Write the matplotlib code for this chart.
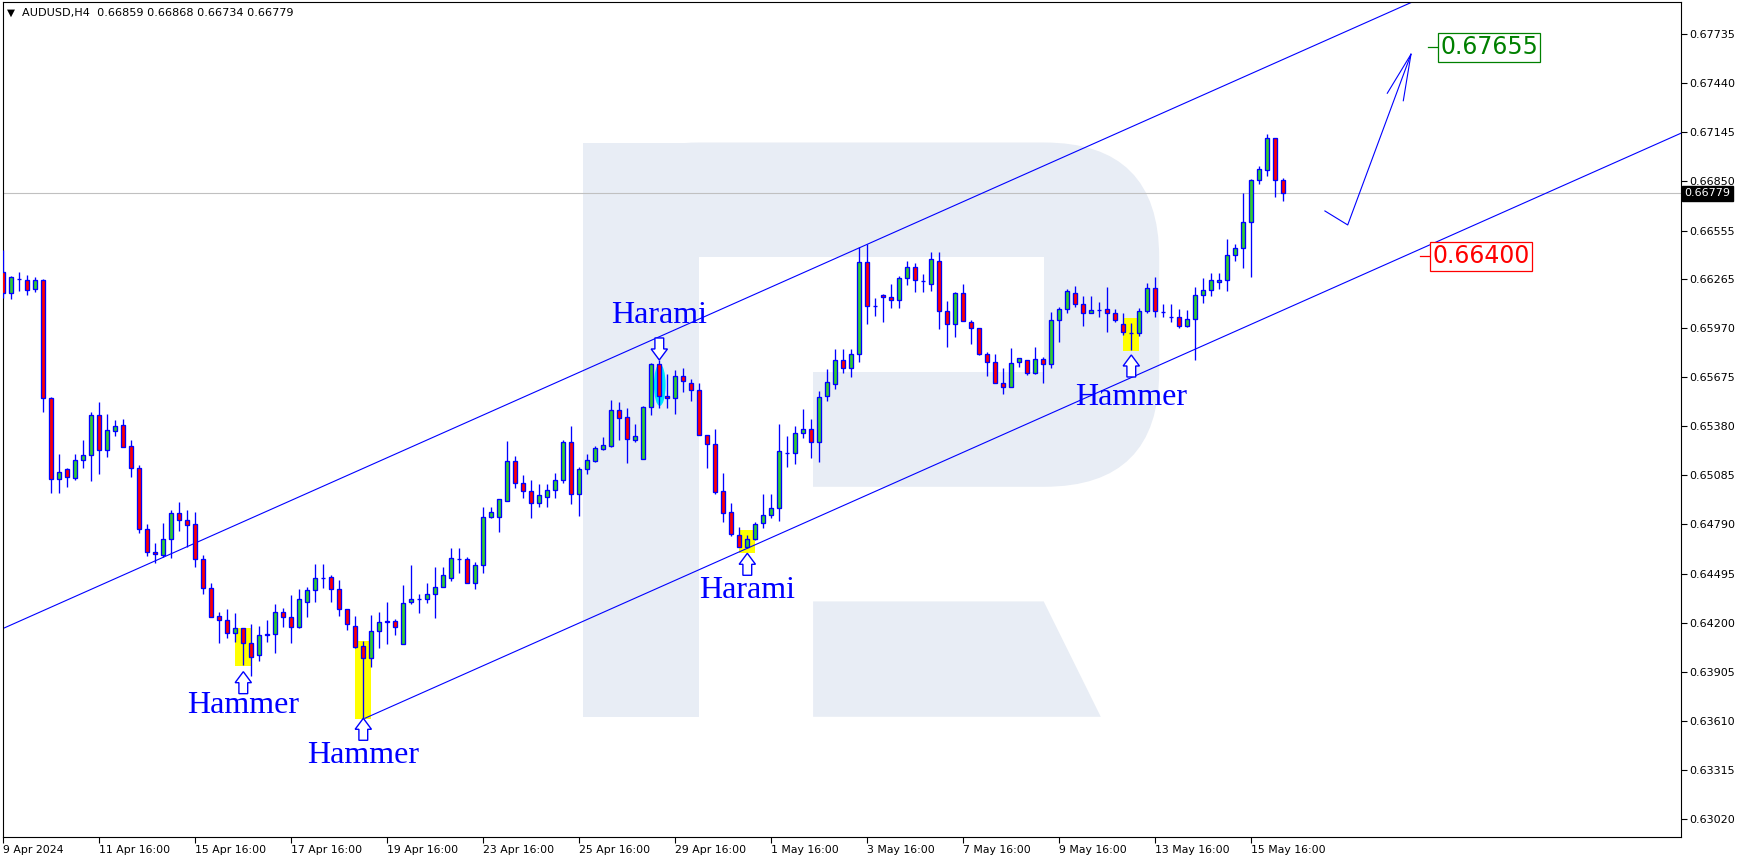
import matplotlib
matplotlib.use("Agg")
import matplotlib.pyplot as plt
from matplotlib.patches import Rectangle, Ellipse, Polygon, FancyBboxPatch

W, H = 1743, 861

# ---- data (AUDUSD H4) ----
opens = [
    0.66306, 0.66180, 0.66264, 0.66258, 0.66204, 0.66258, 0.65550, 0.65063, 0.65123, 0.65069,
    0.65177, 0.65207, 0.65448, 0.65237, 0.65351, 0.65387, 0.65261, 0.65129, 0.64763, 0.64625,
    0.64607, 0.64703, 0.64859, 0.64817, 0.64793, 0.64583, 0.64409, 0.64240, 0.64216, 0.64138,
    0.64168, 0.64078, 0.64006, 0.64126, 0.64132, 0.64264, 0.64234, 0.64174, 0.64324, 0.64397,
    0.64469, 0.64475, 0.64403, 0.64282, 0.64180, 0.64060, 0.63988, 0.64150, 0.64204, 0.64210,
    0.64072, 0.64324, 0.64342, 0.64342, 0.64372, 0.64415, 0.64469, 0.64583, 0.64583, 0.64439,
    0.64547, 0.64835, 0.64835, 0.64931, 0.65171, 0.65039, 0.64991, 0.64919, 0.64955, 0.64997,
    0.65057, 0.65285, 0.64973, 0.65123, 0.65171, 0.65243, 0.65261, 0.65478, 0.65436, 0.65297,
    0.65183, 0.65496, 0.65754, 0.65562, 0.65550, 0.65682, 0.65640, 0.65598, 0.65327, 0.65273,
    0.64991, 0.64865, 0.64727, 0.64655, 0.64703, 0.64799, 0.64847, 0.64889, 0.65219, 0.65219,
    0.65339, 0.65363, 0.65285, 0.65562, 0.65634, 0.65778, 0.65730, 0.65814, 0.66366, 0.66102,
    0.66168, 0.66156, 0.66138, 0.66270, 0.66336, 0.66252, 0.66234, 0.66372, 0.66072, 0.65994,
    0.66180, 0.66006, 0.65970, 0.65814, 0.65766, 0.65640, 0.65616, 0.65766, 0.65778, 0.65700,
    0.65784, 0.65754, 0.66018, 0.66084, 0.66180, 0.66114, 0.66060, 0.66078, 0.66084, 0.66060,
    0.65994, 0.65940, 0.65940, 0.66072, 0.66210, 0.66069, 0.66038, 0.66036, 0.65982, 0.66024,
    0.66168, 0.66198, 0.66246, 0.66258, 0.66409, 0.66451, 0.66607, 0.66859, 0.66919, 0.67111,
    0.66859,
]
highs = [
    0.66439, 0.66282, 0.66306, 0.66288, 0.66276, 0.66264, 0.65556, 0.65213, 0.65129, 0.65213,
    0.65297, 0.65466, 0.65526, 0.65454, 0.65418, 0.65424, 0.65297, 0.65147, 0.64793, 0.64679,
    0.64799, 0.64877, 0.64925, 0.64877, 0.64865, 0.64607, 0.64439, 0.64264, 0.64282, 0.64258,
    0.64168, 0.64192, 0.64180, 0.64216, 0.64312, 0.64288, 0.64366, 0.64403, 0.64415, 0.64553,
    0.64553, 0.64487, 0.64457, 0.64282, 0.64240, 0.64090, 0.64246, 0.64264, 0.64324, 0.64222,
    0.64427, 0.64547, 0.64372, 0.64439, 0.64535, 0.64535, 0.64649, 0.64649, 0.64595, 0.64565,
    0.64895, 0.64895, 0.64943, 0.65291, 0.65201, 0.65087, 0.65057, 0.65033, 0.65033, 0.65099,
    0.65297, 0.65381, 0.65135, 0.65213, 0.65261, 0.65315, 0.65538, 0.65526, 0.65490, 0.65394,
    0.65502, 0.65760, 0.65778, 0.65694, 0.65718, 0.65730, 0.65664, 0.65640, 0.65327, 0.65363,
    0.65099, 0.64919, 0.64775, 0.64727, 0.64805, 0.64973, 0.64973, 0.65394, 0.65321, 0.65381,
    0.65484, 0.65424, 0.65592, 0.65724, 0.65844, 0.65844, 0.65844, 0.66457, 0.66475, 0.66150,
    0.66174, 0.66234, 0.66282, 0.66372, 0.66360, 0.66294, 0.66427, 0.66427, 0.66132, 0.66186,
    0.66234, 0.66018, 0.65970, 0.65826, 0.65814, 0.65730, 0.65850, 0.65790, 0.65778, 0.65856,
    0.65796, 0.66066, 0.66096, 0.66204, 0.66222, 0.66162, 0.66162, 0.66126, 0.66216, 0.66084,
    0.66060, 0.66000, 0.66090, 0.66240, 0.66276, 0.66114, 0.66114, 0.66084, 0.66078, 0.66216,
    0.66270, 0.66300, 0.66300, 0.66505, 0.66475, 0.66781, 0.66865, 0.66943, 0.67135, 0.67111,
    0.66868,
]
lows = [
    0.66150, 0.66144, 0.66192, 0.66168, 0.66186, 0.65466, 0.64979, 0.64979, 0.65015, 0.65057,
    0.65129, 0.65051, 0.65093, 0.65195, 0.65321, 0.65255, 0.65075, 0.64739, 0.64601, 0.64559,
    0.64595, 0.64589, 0.64751, 0.64655, 0.64535, 0.64372, 0.64234, 0.64078, 0.64108, 0.64084,
    0.63946, 0.63880, 0.63970, 0.64084, 0.64018, 0.64174, 0.64078, 0.64168, 0.64234, 0.64324,
    0.64409, 0.64324, 0.64240, 0.64156, 0.64048, 0.63628, 0.63934, 0.64048, 0.64072, 0.64126,
    0.64072, 0.64312, 0.64258, 0.64318, 0.64228, 0.64415, 0.64451, 0.64499, 0.64439, 0.64403,
    0.64499, 0.64829, 0.64745, 0.64931, 0.65009, 0.64949, 0.64829, 0.64895, 0.64895, 0.64949,
    0.65039, 0.64913, 0.64841, 0.65093, 0.65165, 0.65237, 0.65255, 0.65297, 0.65159, 0.65285,
    0.65183, 0.65448, 0.65490, 0.65490, 0.65454, 0.65586, 0.65532, 0.65327, 0.65129, 0.64973,
    0.64805, 0.64721, 0.64655, 0.64649, 0.64697, 0.64769, 0.64829, 0.64811, 0.65135, 0.65153,
    0.65309, 0.65189, 0.65165, 0.65532, 0.65604, 0.65700, 0.65676, 0.65766, 0.65994, 0.66042,
    0.66006, 0.66090, 0.66090, 0.66228, 0.66186, 0.66186, 0.66192, 0.65964, 0.65856, 0.65916,
    0.66012, 0.65874, 0.65808, 0.65682, 0.65640, 0.65574, 0.65616, 0.65736, 0.65688, 0.65694,
    0.65640, 0.65730, 0.65886, 0.66060, 0.66096, 0.65982, 0.66060, 0.66036, 0.65946, 0.66006,
    0.65928, 0.65838, 0.65922, 0.66060, 0.66036, 0.66036, 0.66006, 0.65970, 0.65976, 0.65778,
    0.66120, 0.66162, 0.66204, 0.66192, 0.66372, 0.66330, 0.66276, 0.66835, 0.66883, 0.66757,
    0.66734,
]
closes = [
    0.66180, 0.66276, 0.66264, 0.66198, 0.66258, 0.65550, 0.65063, 0.65105, 0.65075, 0.65177,
    0.65207, 0.65448, 0.65237, 0.65357, 0.65381, 0.65255, 0.65129, 0.64763, 0.64625, 0.64613,
    0.64703, 0.64859, 0.64817, 0.64787, 0.64583, 0.64409, 0.64234, 0.64216, 0.64138, 0.64168,
    0.64078, 0.63994, 0.64126, 0.64132, 0.64264, 0.64234, 0.64174, 0.64342, 0.64397, 0.64469,
    0.64469, 0.64403, 0.64282, 0.64192, 0.64054, 0.63988, 0.64150, 0.64204, 0.64210, 0.64174,
    0.64318, 0.64342, 0.64344, 0.64372, 0.64415, 0.64487, 0.64589, 0.64585, 0.64439, 0.64547,
    0.64835, 0.64865, 0.64943, 0.65171, 0.65039, 0.64991, 0.64919, 0.64967, 0.64997, 0.65057,
    0.65285, 0.64973, 0.65123, 0.65177, 0.65249, 0.65267, 0.65478, 0.65430, 0.65303, 0.65321,
    0.65496, 0.65754, 0.65562, 0.65550, 0.65682, 0.65652, 0.65598, 0.65327, 0.65273, 0.64985,
    0.64859, 0.64733, 0.64655, 0.64703, 0.64793, 0.64847, 0.64889, 0.65231, 0.65222, 0.65339,
    0.65363, 0.65285, 0.65556, 0.65646, 0.65778, 0.65730, 0.65814, 0.66366, 0.66102, 0.66102,
    0.66156, 0.66138, 0.66270, 0.66336, 0.66258, 0.66255, 0.66384, 0.66072, 0.65994, 0.66180,
    0.66012, 0.65970, 0.65814, 0.65766, 0.65640, 0.65616, 0.65760, 0.65790, 0.65700, 0.65784,
    0.65754, 0.66018, 0.66084, 0.66192, 0.66114, 0.66060, 0.66078, 0.66080, 0.66060, 0.66018,
    0.65946, 0.65940, 0.66072, 0.66210, 0.66072, 0.66069, 0.66038, 0.65982, 0.66024, 0.66168,
    0.66198, 0.66258, 0.66258, 0.66409, 0.66451, 0.66607, 0.66859, 0.66925, 0.67111, 0.66859,
    0.66779,
]

date_labels = ["9 Apr 2024", "11 Apr 16:00", "15 Apr 16:00", "17 Apr 16:00", "19 Apr 16:00",
               "23 Apr 16:00", "25 Apr 16:00", "29 Apr 16:00", "1 May 16:00", "3 May 16:00",
               "7 May 16:00", "9 May 16:00", "13 May 16:00", "15 May 16:00"]
date_bars = [0, 12, 24, 36, 48, 60, 72, 84, 96, 108, 120, 132, 144, 156]
price_ticks = [0.63020, 0.63315, 0.63610, 0.63905, 0.64200, 0.64495, 0.64790, 0.65085, 0.65380,
               0.65675, 0.65970, 0.66265, 0.66555, 0.66850, 0.67145, 0.67440, 0.67735]
last_price = 0.66779

# candlestick patterns
pattern_names = ["Hammer", "Hammer", "Harami", "Harami", "Hammer"]
pattern_bars = [30, 45, 82, 93, 141]
pattern_dirs = ["up", "up", "down", "up", "up"]
arrow_tips = [0.63906, 0.63626, 0.65778, 0.64617, 0.65808]
label_baselines = [0.63660, 0.63356, 0.65998, 0.64347, 0.65508]

hl_left = [29.0, 44.0, 92.0, 139.9]
hl_right = [30.93, 45.93, 93.96, 141.9]
hl_top = [0.64166, 0.64090, 0.64757, 0.66032]
hl_bottom = [0.63940, 0.63620, 0.64620, 0.65834]

harami_bar = 82.06
harami_mid = 0.65628

# channel anchors (bar, price)
upper_channel = [(0, 0.64166), (200, 0.68438)]
lower_channel = [(45.2, 0.63626), (215, 0.67253)]

# forecast path
forecast_bars = [165.2, 168.05, 175.96]
forecast_prices = [0.66673, 0.66589, 0.67614]
barb_bars = [173.0, 175.0]
barb_prices = [0.67380, 0.67335]

target_prices = [0.67655, 0.66400]
target_colors = ["#008000", "#ff0000"]

# ---- styling ----
EDGE = "#0000ff"
GREEN = "#32cd32"
RED = "#ff0000"
BODY_W = 0.52
PX = 0.00006006   # price per pixel
BAR = 8.0         # pixels per bar

fig = plt.figure(figsize=(W / 100, H / 100), dpi=100, facecolor="white")

# background watermark (pixel coordinates)
bg = fig.add_axes([0, 0, 1, 1], zorder=0)
bg.set_xlim(0, W)
bg.set_ylim(H, 0)
bg.axis("off")
WM = "#e8edf5"
bg.add_patch(FancyBboxPatch((583.3, 142.5), 575.9, 344.3,
                            boxstyle="round,pad=0,rounding_size=115", fc=WM, ec="none"))
bg.add_patch(Rectangle((583.3, 142.5), 115.5, 574.3, fc=WM, ec="none"))
bg.add_patch(Rectangle((698.8, 257.2), 344.9, 114.6, fc="white", ec="none"))
bg.add_patch(Rectangle((698.8, 371.8), 114.3, 115.0, fc="white", ec="none"))
bg.add_patch(Polygon([(813.1, 601.4), (1043.7, 601.4), (1100.8, 716.8), (813.1, 716.8)],
                     closed=True, fc=WM, ec="none"))

left, right, top, bottom = 2.5, 1681, 2, 837
ax = fig.add_axes([left / W, 1 - bottom / H, (right - left) / W, (bottom - top) / H], zorder=1)
ax.set_facecolor("none")
ax.set_xlim((left - 3.3) / BAR, (right - 3.3) / BAR)
ax.set_ylim(0.67940 - PX * bottom, 0.67940 - PX * top)

for s in ax.spines.values():
    s.set_color("black")
    s.set_linewidth(0.8)

# highlights
for x0, x1, t, b in zip(hl_left, hl_right, hl_top, hl_bottom):
    ax.add_patch(Rectangle((x0, b), x1 - x0, t - b, fc="#ffff00", ec="none", zorder=1))
ax.add_patch(Ellipse((harami_bar, harami_mid), 1.46, 0.00252, fc="#00e5ff", ec="none", zorder=1))

# last price line
ax.axhline(last_price, color="#c0c0c0", lw=0.8, zorder=1.5)

# channel
for line in (upper_channel, lower_channel):
    ax.plot([p[0] for p in line], [p[1] for p in line], color=EDGE, lw=0.8, zorder=2)

# candles
n = len(opens)
ax.vlines(range(n), lows, highs, color=EDGE, lw=0.95, zorder=3)
for i, (o, c) in enumerate(zip(opens, closes)):
    fc = GREEN if c > o else (RED if c < o else "none")
    ax.add_patch(Rectangle((i - BODY_W / 2, min(o, c)), BODY_W, abs(c - o),
                           fc=fc, ec=EDGE, lw=0.95, zorder=4))

# pattern arrows + labels
head_w, shaft_w = 1.02, 0.55
head_h, total_h = 11 * PX, 22 * PX
for name, bar, d, tip, base in zip(pattern_names, pattern_bars, pattern_dirs, arrow_tips, label_baselines):
    s = -1 if d == "up" else 1
    pts = [(bar, tip), (bar + head_w, tip + s * head_h), (bar + shaft_w, tip + s * head_h),
           (bar + shaft_w, tip + s * total_h), (bar - shaft_w, tip + s * total_h),
           (bar - shaft_w, tip + s * head_h), (bar - head_w, tip + s * head_h)]
    ax.add_patch(Polygon(pts, closed=True, fc="white", ec=EDGE, lw=1.0, zorder=5))
    ax.text(bar, base, name, ha="center", va="baseline", color=EDGE,
            family="Liberation Serif", fontsize=23, zorder=6)

# forecast arrow
ax.plot(forecast_bars, forecast_prices, color=EDGE, lw=0.8, zorder=5)
for bb, bp in zip(barb_bars, barb_prices):
    ax.plot([forecast_bars[-1], bb], [forecast_prices[-1], bp], color=EDGE, lw=0.8, zorder=5)

# target levels
for price, col, x0 in zip(target_prices, target_colors, [179.3, 178.3]):
    ax.plot([x0 - 1.25, x0], [price, price], color=col, lw=0.9, zorder=5)
    ax.text(x0 + 0.3, price, f"{price:.5f}", ha="left", va="center", color=col,
            fontsize=17, family="DejaVu Sans", zorder=6,
            bbox=dict(boxstyle="square,pad=0.1", fc="white", ec=col, lw=0.9))

# axes ticks
ax.yaxis.tick_right()
ax.set_yticks(price_ticks)
ax.set_yticklabels([f"{p:.5f}" for p in price_ticks])
ax.tick_params(axis="y", direction="out", length=4, width=0.8, pad=2, labelsize=8, colors="black")
ax.set_xticks(date_bars)
ax.set_xticklabels(date_labels)
ax.tick_params(axis="x", direction="out", length=4, width=0.8, pad=2, labelsize=7.8, colors="black")
for lbl in ax.get_xticklabels():
    lbl.set_horizontalalignment("left")

ax.annotate(f"{last_price:.5f}", xy=(1, last_price), xycoords=ax.get_yaxis_transform(),
            xytext=(2.5, 0), textcoords="offset points", ha="left", va="center",
            fontsize=8, color="white", zorder=10, annotation_clip=False,
            bbox=dict(boxstyle="square,pad=0.2", fc="black", ec="black"))

# header
fig.text(6.5 / W, 1 - 12.5 / H, "\u25bc", fontsize=7.5, va="center", ha="left", color="black")
fig.text(21.7 / W, 1 - 12.7 / H,
         f"AUDUSD,H4  {opens[-1]:.5f} {highs[-1]:.5f} {lows[-1]:.5f} {closes[-1]:.5f}",
         fontsize=8.1, va="center", ha="left", color="black")

fig.savefig("out.png", dpi=100, facecolor="white")
